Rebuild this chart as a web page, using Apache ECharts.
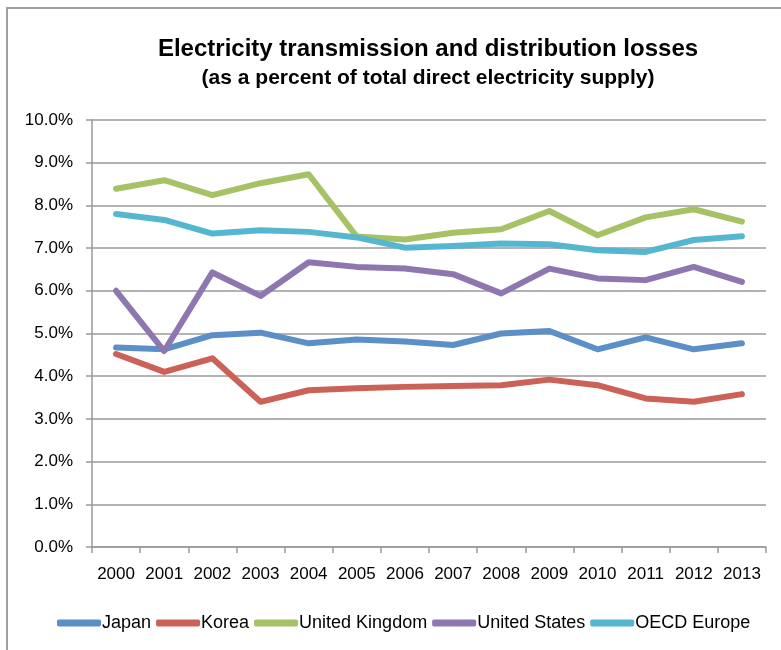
<!DOCTYPE html>
<html>
<head>
<meta charset="utf-8">
<script src="https://cdn.jsdelivr.net/npm/echarts@6/dist/echarts.min.js"></script>
<style>
	html, body { margin: 0; padding: 0; background: #fff; }
	#chart { width: 781px; height: 650px; }
</style>
</head>
<body>
<div id="chart"></div>
<script>
	// 数据
	const years = ["2000", "2001", "2002", "2003", "2004", "2005", "2006", "2007", "2008", "2009", "2010", "2011", "2012", "2013"];
	const japan = [4.67, 4.63, 4.96, 5.02, 4.77, 4.86, 4.81, 4.73, 5.00, 5.06, 4.63, 4.91, 4.63, 4.77];
	const korea = [4.52, 4.10, 4.42, 3.40, 3.67, 3.72, 3.75, 3.77, 3.79, 3.92, 3.79, 3.48, 3.40, 3.58];
	const unitedKingdom = [8.39, 8.59, 8.24, 8.52, 8.73, 7.27, 7.20, 7.36, 7.44, 7.87, 7.30, 7.72, 7.91, 7.62];
	const unitedStates = [6.00, 4.59, 6.43, 5.88, 6.67, 6.56, 6.52, 6.39, 5.94, 6.52, 6.29, 6.25, 6.56, 6.21];
	const oecdEurope = [7.80, 7.66, 7.34, 7.42, 7.38, 7.25, 7.01, 7.05, 7.11, 7.09, 6.95, 6.91, 7.19, 7.28];

	const seriesNames = ["Japan", "Korea", "United Kingdom", "United States", "OECD Europe"];
	const seriesData = [japan, korea, unitedKingdom, unitedStates, oecdEurope];
	const colors = ["#5A8FC8", "#CC6158", "#A6C264", "#8E77B1", "#55B7CF"];

	const font = "'Liberation Sans', Arial, sans-serif";

	const chart = echarts.init(document.getElementById("chart"));

	const option = {
		backgroundColor: "#fff",
		animation: false,
		color: colors,
		textStyle: { fontFamily: font },
		title: {
			text: "Electricity transmission and distribution losses",
			subtext: "(as a percent of total direct electricity supply)",
			left: 423,
			textAlign: "center",
			top: 32,
			itemGap: 7,
			textStyle: { fontFamily: font, fontSize: 24, fontWeight: "bold", color: "#000" },
			subtextStyle: { fontFamily: font, fontSize: 21, fontWeight: "bold", color: "#000" }
		},
		graphic: [{
			type: "rect",
			shape: { x: 7, y: 8, width: 800, height: 700 },
			style: { fill: "none", stroke: "#a0a0a0", lineWidth: 2 },
			silent: true
		}],
		legend: {
			left: 52,
			top: 609,
			icon: "roundRect",
			itemWidth: 44,
			itemHeight: 7,
			itemGap: 5,
			textStyle: { fontFamily: font, fontSize: 18, color: "#000", padding: [0, 0, 0, -4] },
			data: seriesNames
		},
		grid: {
			left: 92,
			right: 15,
			top: 120,
			bottom: 103,
			containLabel: false
		},
		xAxis: {
			type: "category",
			data: years,
			boundaryGap: true,
			axisLine: { lineStyle: { color: "#9a9a9a", width: 1.5 } },
			axisTick: { show: true, interval: 0, inside: false, length: 6, lineStyle: { color: "#9a9a9a", width: 1.5 } },
			axisLabel: { interval: 0, fontFamily: font, fontSize: 17, color: "#000", margin: 19 }
		},
		yAxis: {
			type: "value",
			min: 0,
			max: 10,
			interval: 1,
			axisLine: { show: true, lineStyle: { color: "#9a9a9a", width: 1.5 } },
			axisTick: { show: true, inside: false, length: 6, lineStyle: { color: "#9a9a9a", width: 1.5 } },
			splitLine: { lineStyle: { color: "#9a9a9a", width: 1.5 } },
			axisLabel: {
				fontFamily: font,
				fontSize: 17,
				color: "#000",
				margin: 19,
				formatter: v => v.toFixed(1) + "%"
			}
		},
		series: seriesNames.map((name, i) => ({
			name,
			type: "line",
			data: seriesData[i],
			symbol: "none",
			smooth: false,
			lineStyle: { width: 6, color: colors[i], cap: "round", join: "round" },
			itemStyle: { color: colors[i] }
		}))
	};

	chart.setOption(option);
</script>
</body>
</html>
